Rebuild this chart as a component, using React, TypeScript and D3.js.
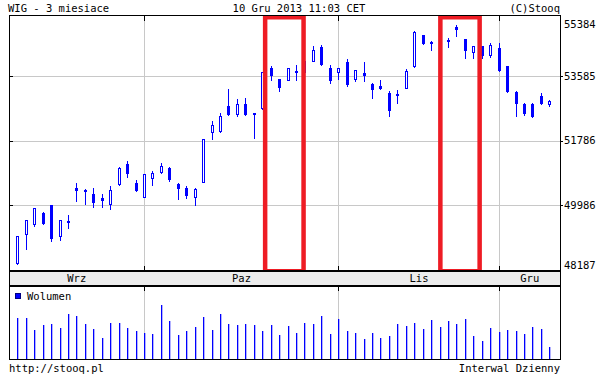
import React from 'react';
import * as d3 from 'd3';

const dates = [
  '2013-09-10','2013-09-11','2013-09-12','2013-09-13','2013-09-16','2013-09-17','2013-09-18','2013-09-19','2013-09-20','2013-09-23','2013-09-24','2013-09-25','2013-09-26','2013-09-27','2013-09-30',
  '2013-10-01','2013-10-02','2013-10-03','2013-10-04','2013-10-07','2013-10-08','2013-10-09','2013-10-10','2013-10-11','2013-10-14','2013-10-15','2013-10-16','2013-10-17','2013-10-18','2013-10-21','2013-10-22','2013-10-23','2013-10-24','2013-10-25','2013-10-28','2013-10-29','2013-10-30','2013-10-31',
  '2013-11-04','2013-11-05','2013-11-06','2013-11-07','2013-11-08','2013-11-12','2013-11-13','2013-11-14','2013-11-15','2013-11-18','2013-11-19','2013-11-20','2013-11-21','2013-11-22','2013-11-25','2013-11-26','2013-11-27','2013-11-28','2013-11-29',
  '2013-12-02','2013-12-03','2013-12-04','2013-12-05','2013-12-06','2013-12-09','2013-12-10'
];

const open = [48390,49180,49459,49765,49996,49141,49551,50469,50422,50302,50191,50032,50572,51137,50608,
  50210,50756,50906,51026,50580,50477,50227,50644,52036,52064,52759,52528,52807,52556,52687,53800,53503,53483,53733,53700,54012,54393,53809,
  53689,53976,53511,53669,53363,53308,53121,53077,53244,53864,54727,54540,54365,54579,54958,54607,54245,54421,54170,
  54357,53864,53149,52798,52798,53029,52798];
const close = [49133,49570,49904,49475,49050,49570,49503,50394,50366,50060,50116,50413,51017,50867,50394,
  50850,50886,51081,50700,50433,50246,50449,51841,52222,52473,52509,52807,52509,52509,53689,53594,53260,53809,53678,54000,54318,53900,53447,
  53809,53335,53745,53586,53188,53232,52620,53021,53725,54819,54485,54468,54301,54524,54866,54290,54412,54151,54449,
  53733,53132,52798,52528,52453,52798,52890];
const high = [49140,49575,49910,49801,50000,49575,49718,50608,50440,50469,50302,50525,51054,51229,50692,
  50855,50950,51165,51045,50617,50525,50477,51845,52334,52556,53232,52946,52982,52560,53695,53873,53505,53815,53892,54050,54421,54449,53884,
  53812,54059,53761,53976,53391,53475,53177,53188,53781,54847,54730,54568,54380,54635,55005,54610,54415,54430,54496,
  54496,53870,53169,52835,52835,53113,52926];
const low = [48346,48780,49403,49470,49002,49030,49364,50116,50032,49949,49949,49893,50553,50783,50390,
  50205,50561,50900,50655,50171,50199,50000,50640,51841,52019,52505,52481,52505,51869,52680,53483,53168,53480,53483,53650,54010,53895,53399,
  53503,53308,53447,53447,52974,53230,52481,52843,53240,53828,54468,54301,54290,54401,54707,54095,54095,54100,54123,
  53730,53130,52481,52509,52450,52795,52759];
const volume = [826,826,580,686,706,626,906,866,706,606,426,726,726,626,560,
  526,506,1086,766,486,566,646,846,586,906,706,686,706,686,566,686,486,666,526,726,706,866,506,
  806,566,526,406,526,426,466,706,666,726,606,786,646,766,706,806,466,366,626,
  546,586,566,506,646,606,246];

const yTicks = [48187, 49986, 51786, 53585, 55384];
const monthNames = ['Wrz', 'Paz', 'Lis', 'Gru'];
const highlights = [[29.35, 33.9], [50.1, 54.75]];

const L = 9, R = 560, T = 16, B = 271, VT = 286, VB = 359;
const BLUE = '#0000ff';
const FONT = '"DejaVu Sans Mono", monospace';

export default function App() {
  const n = dates.length;
  const x = d3.scaleLinear().domain([0, n - 1]).range([17.3, 549.3]);
  const y = d3.scaleLinear().domain([48187, 55384]).range([270, 11.4]);
  const yv = d3.scaleLinear().domain([0, 1460]).range([VB, VT]);
  const px = (i: number) => Math.round(x(i));

  const monthStarts: number[] = [];
  for (let i = 1; i < n; i++) if (dates[i].slice(5, 7) !== dates[i - 1].slice(5, 7)) monthStarts.push(i);
  const bounds = [L, ...monthStarts.map((i) => px(i) + 0.5), R];

  const gridY = yTicks.filter((v) => y(v) > T + 2 && y(v) < B - 2);

  return (
    <svg width={600} height={375} style={{ position: 'absolute', left: 0, top: 0, background: '#fff' }}
      fontFamily={FONT} fontSize={10.5}>
      <rect x={0} y={0} width={600} height={375} fill="#fff" />
      {/* header */}
      <text x={8} y={12} fill="#000">WIG - 3 miesiace</text>
      <text x={299} y={12} fill="#000" textAnchor="middle">10 Gru 2013 11:03 CET</text>
      <text x={560} y={12} fill="#000" textAnchor="end">(C)Stooq</text>

      {/* main panel gridlines */}
      {gridY.map((v) => (
        <g key={v}>
          <line x1={L} x2={R} y1={Math.round(y(v)) + 0.5} y2={Math.round(y(v)) + 0.5} stroke="#c8c8c8" />
          <line x1={L} x2={L + 4} y1={Math.round(y(v)) + 0.5} y2={Math.round(y(v)) + 0.5} stroke="#000" />
          <line x1={R} x2={R + 3} y1={Math.round(y(v)) + 0.5} y2={Math.round(y(v)) + 0.5} stroke="#000" />
        </g>
      ))}
      {monthStarts.map((i) => (
        <g key={i}>
          <line x1={px(i) + 0.5} x2={px(i) + 0.5} y1={T} y2={B} stroke="#c8c8c8" />
          <line x1={px(i) + 0.5} x2={px(i) + 0.5} y1={T} y2={T + 5} stroke="#000" />
          <line x1={px(i) + 0.5} x2={px(i) + 0.5} y1={B - 5} y2={B} stroke="#000" />
          <line x1={px(i) + 0.5} x2={px(i) + 0.5} y1={VT} y2={VB} stroke="#c8c8c8" />
          <line x1={px(i) + 0.5} x2={px(i) + 0.5} y1={VT} y2={VT + 5} stroke="#000" />
        </g>
      ))}

      {/* y labels */}
      {yTicks.map((v) => (
        <text key={v} x={564} y={Math.min(Math.max(y(v), 24), 265) + 3.5} fill="#000">{v}</text>
      ))}

      {/* candles */}
      {dates.map((d, i) => {
        const cx = px(i);
        const up = close[i] >= open[i];
        const top = Math.round(y(Math.max(open[i], close[i])));
        const bot = Math.round(y(Math.min(open[i], close[i])));
        return (
          <g key={d}>
            <line x1={cx + 0.5} x2={cx + 0.5} y1={Math.round(y(high[i]))} y2={Math.round(y(low[i])) + 1} stroke={BLUE} />
            {up ? (
              <rect x={cx - 0.5} y={top + 0.5} width={2} height={Math.max(bot - top, 1)} fill="#fff" stroke={BLUE} />
            ) : (
              <rect x={cx - 1} y={top} width={3} height={Math.max(bot - top, 2)} fill={BLUE} />
            )}
          </g>
        );
      })}

      {/* highlight boxes */}
      {highlights.map(([a, b], k) => (
        <rect key={k} x={x(a)} y={17.25} width={x(b) - x(a)} height={254} fill="none" stroke="#ee1c24" strokeWidth={4.5} />
      ))}

      {/* main frame */}
      <rect x={L + 0.5} y={T - 0.5} width={R - L} height={B - T} fill="none" stroke="#000" />

      {/* month band */}
      <rect x={L + 0.5} y={B + 0.5} width={R - L} height={VT - B - 1} fill="#ececec" stroke="#000" />
      {monthNames.map((m, k) => (
        <text key={m} x={(bounds[k] + bounds[k + 1]) / 2} y={282} textAnchor="middle" fill="#000">{m}</text>
      ))}

      {/* volume */}
      {volume.map((v, i) => (
        <rect key={i} x={px(i)} y={Math.round(yv(v))} width={1.3} height={VB - Math.round(yv(v))} fill={BLUE} />
      ))}
      <rect x={L + 0.5} y={VT + 0.5} width={R - L} height={VB - VT} fill="none" stroke="#000" />
      <rect x={15.5} y={293.5} width={5} height={5} fill={BLUE} stroke="#000080" />
      <text x={27} y={300} fill="#000">Wolumen</text>

      {/* footer */}
      <text x={9} y={372} fill="#000">http://stooq.pl</text>
      <text x={560} y={372} fill="#000" textAnchor="end">Interwal Dzienny</text>
    </svg>
  );
}
